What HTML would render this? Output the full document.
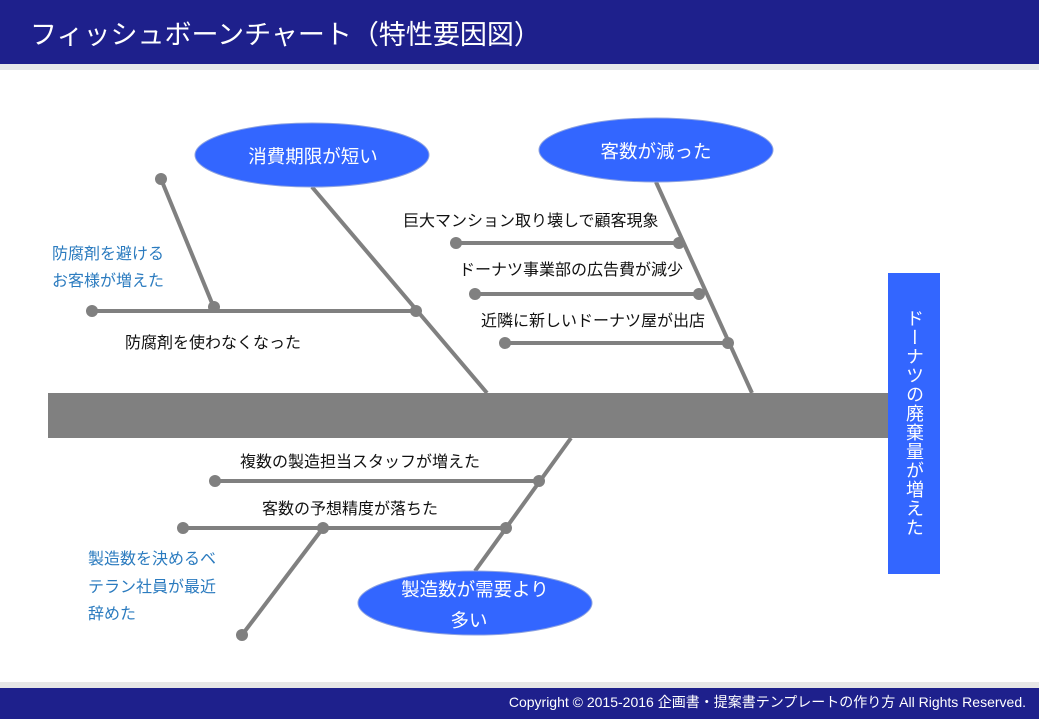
<!DOCTYPE html>
<html><head><meta charset="utf-8">
<style>
html,body{margin:0;padding:0;width:1039px;height:719px;overflow:hidden;background:#fff;font-family:"Liberation Sans","Noto Sans CJK JP",sans-serif;}
.hdr{position:absolute;left:0;top:0;width:1039px;height:64px;background:#1e208c;}
.hdr span{position:absolute;left:30px;top:13px;color:#fff;font-size:27px;}
.strip1{position:absolute;left:0;top:64px;width:1039px;height:6px;background:#e6e8ea;}
.strip2{position:absolute;left:0;top:682px;width:1039px;height:6px;background:#e6e6e6;}
.ftr{position:absolute;left:0;top:688px;width:1039px;height:31px;background:#1e208c;}
.ftr span{position:absolute;right:13px;top:4px;color:#fff;font-size:14px;}
svg{position:absolute;left:0;top:0;}
.vt{position:absolute;left:888px;top:273px;width:52px;height:301px;background:#3366ff;}
.vt div{position:absolute;left:14px;top:36px;writing-mode:vertical-rl;color:#fff;font-size:18px;line-height:24px;letter-spacing:1px;}
</style></head><body>
<div class="hdr"><span>フィッシュボーンチャート（特性要因図）</span></div>
<div class="strip1"></div>
<svg width="1039" height="719" xmlns="http://www.w3.org/2000/svg" font-family="Liberation Sans, Noto Sans CJK JP, sans-serif">
<g stroke="#808080" stroke-width="4" fill="none">
<line x1="312" y1="187" x2="487" y2="393"/>
<line x1="416" y1="311" x2="92" y2="311"/>
<line x1="214" y1="308" x2="161" y2="179"/>
<line x1="656" y1="182" x2="752" y2="393"/>
<line x1="456" y1="243" x2="679" y2="243"/>
<line x1="475" y1="294" x2="699" y2="294"/>
<line x1="505" y1="343" x2="728" y2="343"/>
<line x1="571" y1="438" x2="475" y2="571"/>
<line x1="215" y1="481" x2="539" y2="481"/>
<line x1="183" y1="528" x2="506" y2="528"/>
<line x1="323" y1="528" x2="242" y2="635"/>
</g>
<g fill="#808080">
<circle cx="161" cy="179" r="6"/><circle cx="214" cy="307" r="6"/><circle cx="92" cy="311" r="6"/><circle cx="416" cy="311" r="6"/>
<circle cx="456" cy="243" r="6"/><circle cx="679" cy="243" r="6"/>
<circle cx="475" cy="294" r="6"/><circle cx="699" cy="294" r="6"/>
<circle cx="505" cy="343" r="6"/><circle cx="728" cy="343" r="6"/>
<circle cx="215" cy="481" r="6"/><circle cx="539" cy="481" r="6"/>
<circle cx="183" cy="528" r="6"/><circle cx="506" cy="528" r="6"/><circle cx="323" cy="528" r="6"/>
<circle cx="242" cy="635" r="6"/>
</g>
<rect x="48" y="393" width="840" height="45" fill="#808080"/>
<g fill="#3366ff" stroke="#8da2e0" stroke-width="1">
<ellipse cx="312" cy="155" rx="117" ry="32"/>
<ellipse cx="656" cy="150" rx="117" ry="32"/>
<ellipse cx="475" cy="603" rx="117" ry="32"/>
</g>
<g fill="#fff" font-size="18.5" text-anchor="middle">
<text x="313" y="163">消費期限が短い</text>
<text x="656" y="158">客数が減った</text>
<text x="475" y="596">製造数が需要より</text>
<text x="469" y="627">多い</text>
</g>
<g fill="#111" font-size="16">
<text x="403" y="226">巨大マンション取り壊しで顧客現象</text>
<text x="459" y="275">ドーナツ事業部の広告費が減少</text>
<text x="481" y="326">近隣に新しいドーナツ屋が出店</text>
<text x="125" y="348">防腐剤を使わなくなった</text>
<text x="240" y="467">複数の製造担当スタッフが増えた</text>
<text x="262" y="514">客数の予想精度が落ちた</text>
</g>
<g fill="#2b7bbf" font-size="16">
<text x="52" y="259">防腐剤を避ける</text>
<text x="52" y="286">お客様が増えた</text>
<text x="88" y="564">製造数を決めるベ</text>
<text x="88" y="592">テラン社員が最近</text>
<text x="88" y="619">辞めた</text>
</g>
</svg>
<div class="vt"><div>ドーナツの廃棄量が増えた</div></div>
<div class="strip2"></div>
<div class="ftr"><span>Copyright © 2015-2016 企画書・提案書テンプレートの作り方 All Rights Reserved.</span></div>
</body></html>
